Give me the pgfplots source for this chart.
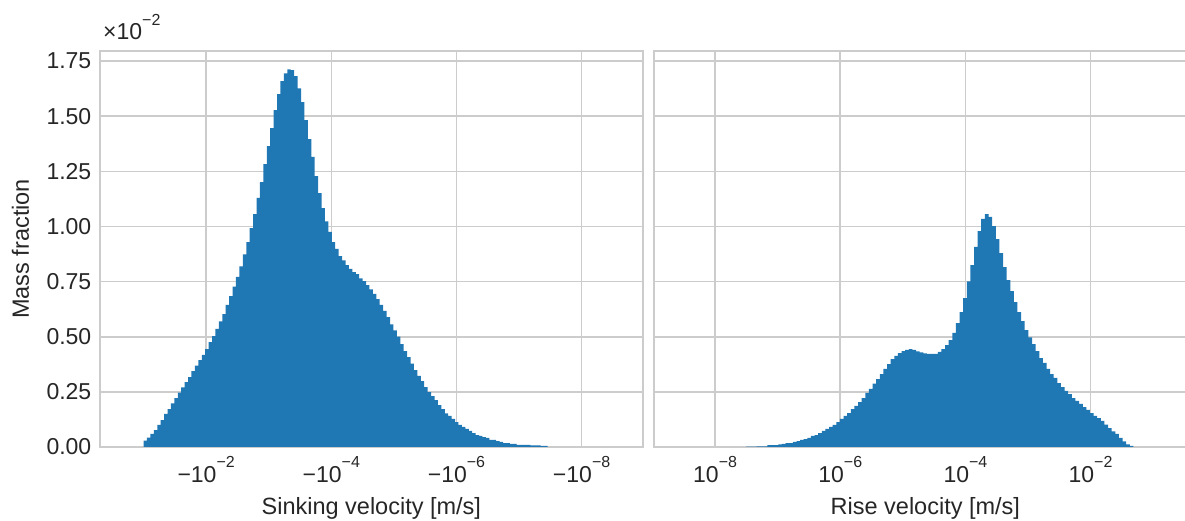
\documentclass[border=0pt]{standalone}
\usepackage{fontspec}
\setmainfont{Liberation Sans}
\usepackage{pgfplots}
\pgfplotsset{compat=1.18}
\definecolor{barblue}{RGB}{31,119,180}
\definecolor{gridgray}{RGB}{204,204,204}
\definecolor{txt}{RGB}{38,38,38}
\newcommand{\sups}[1]{\raisebox{14.5pt}{\fontsize{16}{16}\selectfont #1}}
\begin{document}
\begin{tikzpicture}[x=1pt,y=1pt]
\useasboundingbox (-100,-74) rectangle (1085,447);
\pgfplotsset{
  hist/.style={
    scale only axis, height=396.3pt, width=542.7pt, ymin=0, ymax=1.797,
    ytick={0,0.25,0.5,0.75,1,1.25,1.5,1.75},
    grid=major, major grid style={gridgray, line width=1.6pt},
    axis line style={gridgray, line width=1.7pt},
    tick style={draw=none},
    scaled y ticks=false,
    /pgf/number format/assume math mode=true,
    /pgf/number format/.cd, fixed, fixed zerofill, precision=2, /pgfplots/.cd,
    tick label style={font=\fontsize{23}{27}\selectfont, text=txt},
    xticklabel style={anchor=base, yshift=-35.5pt},
    yticklabel style={xshift=-5.2pt},
    label style={font=\fontsize{23.5}{28}\selectfont, text=txt},
    xlabel style={at={(axis description cs:0.5,-0.171)}, anchor=base},
    clip mode=individual,
  }
}
\begin{axis}[hist, at={(0,0)}, anchor=south west,
  xmin=0.304, xmax=8.976, xtick={2,4,6,8},
  xticklabels={−10\sups{−2},−10\sups{−4},−10\sups{−6},−10\sups{−8}},
  xlabel={Sinking velocity [m/s]}, ylabel={Mass fraction},
  ylabel style={at={(axis description cs:-0.131,0.5)}, anchor=base, rotate=0},
]
\addplot[const plot mark left, fill=barblue, draw=none] coordinates {
(1.000,0.029) (1.055,0.042) (1.109,0.059) (1.164,0.077) (1.219,0.100) (1.274,0.122) (1.328,0.150) (1.383,0.172) (1.438,0.198) (1.492,0.222)
(1.547,0.246) (1.602,0.270) (1.656,0.294) (1.711,0.317) (1.766,0.344) (1.821,0.369) (1.875,0.394) (1.930,0.418) (1.985,0.444) (2.039,0.476)
(2.094,0.503) (2.149,0.536) (2.203,0.570) (2.258,0.603) (2.313,0.644) (2.368,0.684) (2.422,0.727) (2.477,0.771) (2.532,0.819) (2.586,0.873)
(2.641,0.929) (2.696,0.993) (2.750,1.056) (2.805,1.130) (2.860,1.201) (2.915,1.283) (2.969,1.364) (3.024,1.446) (3.079,1.528) (3.133,1.600)
(3.188,1.659) (3.243,1.694) (3.297,1.712) (3.352,1.709) (3.407,1.682) (3.462,1.626) (3.516,1.564) (3.571,1.482) (3.626,1.396) (3.680,1.315)
(3.735,1.228) (3.790,1.151) (3.844,1.083) (3.899,1.023) (3.954,0.975) (4.009,0.929) (4.063,0.898) (4.118,0.866) (4.173,0.846) (4.227,0.825)
(4.282,0.808) (4.337,0.793) (4.391,0.784) (4.446,0.765) (4.501,0.752) (4.556,0.734) (4.610,0.715) (4.665,0.694) (4.720,0.671) (4.774,0.644)
(4.829,0.617) (4.884,0.589) (4.938,0.556) (4.993,0.529) (5.048,0.500) (5.103,0.467) (5.157,0.435) (5.212,0.408) (5.267,0.378) (5.321,0.349)
(5.376,0.322) (5.431,0.299) (5.485,0.272) (5.540,0.249) (5.595,0.231) (5.650,0.212) (5.704,0.190) (5.759,0.172) (5.814,0.153) (5.868,0.141)
(5.923,0.127) (5.978,0.113) (6.032,0.100) (6.087,0.091) (6.142,0.082) (6.197,0.073) (6.251,0.063) (6.306,0.054) (6.361,0.050) (6.415,0.045)
(6.470,0.041) (6.525,0.032) (6.579,0.032) (6.634,0.027) (6.689,0.023) (6.744,0.018) (6.798,0.018) (6.853,0.014) (6.908,0.014) (6.962,0.010)
(7.017,0.010) (7.072,0.010) (7.126,0.010) (7.181,0.007) (7.236,0.007) (7.291,0.007) (7.345,0.005) (7.400,0.005) (7.455,0.005)
} \closedcycle;
\node[anchor=base west, inner sep=0pt, font=\fontsize{23}{27}\selectfont, text=txt] at (rel axis cs:0,1) [xshift=3pt, yshift=10.7pt] {×10\sups{−2}};
\end{axis}
\begin{axis}[hist, at={(554pt,0)}, anchor=south west,
  xmin=-8.976, xmax=-0.304, xtick={-8,-6,-4,-2},
  xticklabels={10\sups{−8},10\sups{−6},10\sups{−4},10\sups{−2}},
  yticklabels={}, xlabel={Rise velocity [m/s]},
]
\addplot[const plot mark left, fill=barblue, draw=none] coordinates {
(-7.510,0.002) (-7.452,0.002) (-7.394,0.002) (-7.336,0.003) (-7.278,0.003) (-7.221,0.003) (-7.163,0.008) (-7.105,0.008) (-7.047,0.008) (-6.989,0.012)
(-6.931,0.014) (-6.873,0.018) (-6.815,0.018) (-6.757,0.023) (-6.699,0.027) (-6.642,0.032) (-6.584,0.036) (-6.526,0.041) (-6.468,0.050) (-6.410,0.054)
(-6.352,0.063) (-6.294,0.073) (-6.236,0.082) (-6.178,0.091) (-6.120,0.100) (-6.063,0.113) (-6.005,0.127) (-5.947,0.141) (-5.889,0.154) (-5.831,0.172)
(-5.773,0.186) (-5.715,0.204) (-5.657,0.222) (-5.599,0.245) (-5.541,0.263) (-5.484,0.287) (-5.426,0.308) (-5.368,0.331) (-5.310,0.354) (-5.252,0.376)
(-5.194,0.399) (-5.136,0.413) (-5.078,0.426) (-5.020,0.435) (-4.962,0.440) (-4.905,0.444) (-4.847,0.440) (-4.789,0.434) (-4.731,0.429) (-4.673,0.425)
(-4.615,0.422) (-4.557,0.422) (-4.499,0.422) (-4.441,0.431) (-4.383,0.444) (-4.326,0.462) (-4.268,0.485) (-4.210,0.517) (-4.152,0.562) (-4.094,0.612)
(-4.036,0.675) (-3.978,0.751) (-3.920,0.825) (-3.862,0.907) (-3.804,0.979) (-3.747,1.034) (-3.689,1.056) (-3.631,1.043) (-3.573,1.002) (-3.515,0.943)
(-3.457,0.879) (-3.399,0.816) (-3.341,0.757) (-3.283,0.707) (-3.225,0.657) (-3.168,0.612) (-3.110,0.571) (-3.052,0.530) (-2.994,0.497) (-2.936,0.467)
(-2.878,0.435) (-2.820,0.403) (-2.762,0.381) (-2.704,0.354) (-2.646,0.331) (-2.589,0.313) (-2.531,0.290) (-2.473,0.272) (-2.415,0.254) (-2.357,0.240)
(-2.299,0.222) (-2.241,0.209) (-2.183,0.195) (-2.125,0.181) (-2.067,0.168) (-2.010,0.154) (-1.952,0.141) (-1.894,0.131) (-1.836,0.118) (-1.778,0.101)
(-1.720,0.086) (-1.662,0.071) (-1.604,0.059) (-1.546,0.041) (-1.488,0.026) (-1.431,0.012) (-1.373,0.005) (-1.315,0.005)
} \closedcycle;
\end{axis}
\end{tikzpicture}
\end{document}
